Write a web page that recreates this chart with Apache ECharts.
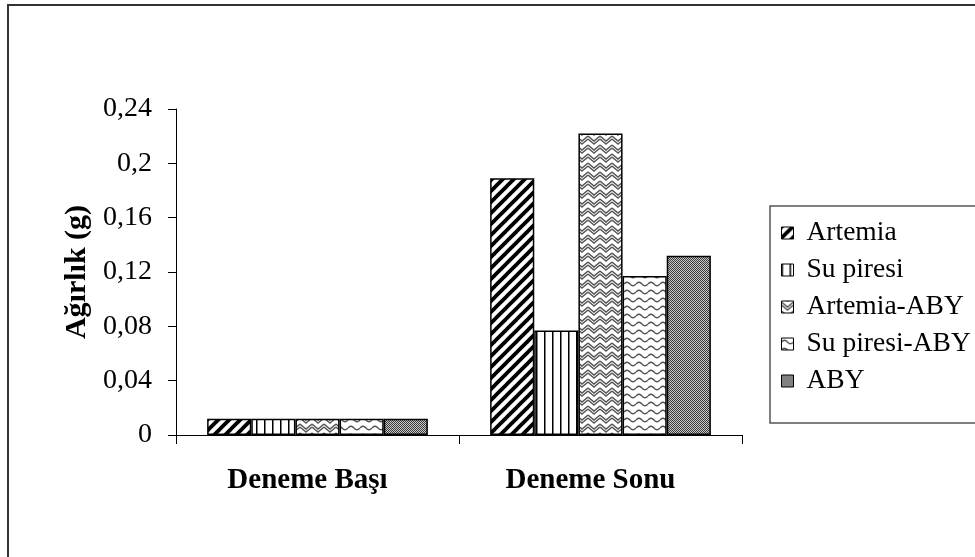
<!DOCTYPE html>
<html>
<head>
<meta charset="utf-8">
<script src="https://cdn.jsdelivr.net/npm/echarts@6/dist/echarts.min.js"></script>
<style>html,body{margin:0;padding:0;background:#fff}#c{width:975px;height:557px}</style>
</head>
<body>
<div id="c"></div>
<script>
var categories = ['Deneme Başı', 'Deneme Sonu'];
var seriesNames = ['Artemia', 'Su piresi', 'Artemia-ABY', 'Su piresi-ABY', 'ABY'];
var artemia = [0.012, 0.189];
var suPiresi = [0.012, 0.077];
var artemiaABY = [0.012, 0.222];
var suPiresiABY = [0.012, 0.117];
var aby = [0.012, 0.132];
var yTicks = [0, 0.04, 0.08, 0.12, 0.16, 0.2, 0.24];

function tile(w, h, draw) {
  var c = document.createElement('canvas');
  c.width = w; c.height = h;
  var g = c.getContext('2d');
  g.fillStyle = '#fff'; g.fillRect(0, 0, w, h);
  draw(g, w, h);
  return { image: c, repeat: 'repeat' };
}
var patterns = [
  tile(11, 11, function (g, w, h) {
    g.strokeStyle = '#000'; g.lineWidth = 3.8; g.lineCap = 'square';
    for (var k = -1; k <= 1; k++) {
      g.beginPath(); g.moveTo(k * w, h); g.lineTo(k * w + w, 0); g.stroke();
    }
  }),
  tile(8, 8, function (g, w, h) {
    g.fillStyle = '#000'; g.fillRect(0, 0, 1.5, h);
  }),
  tile(12, 9, function (g, w, h) {
    g.strokeStyle = '#555'; g.lineWidth = 1.4;
    for (var k = -1; k <= 1; k++) {
      g.beginPath(); g.moveTo(0, 1 + k * h); g.lineTo(6, 6 + k * h); g.lineTo(12, 1 + k * h); g.stroke();
      g.beginPath(); g.moveTo(0, 4 + k * h); g.lineTo(6, 9 + k * h); g.lineTo(12, 4 + k * h); g.stroke();
    }
  }),
  tile(12, 8, function (g, w, h) {
    g.strokeStyle = '#555'; g.lineWidth = 1.4;
    g.beginPath();
    g.moveTo(0, 4);
    g.quadraticCurveTo(3, 0.5, 6, 4);
    g.quadraticCurveTo(9, 7.5, 12, 4);
    g.stroke();
  }),
  tile(2, 2, function (g, w, h) {
    g.fillStyle = '#c8c8c8'; g.fillRect(0, 0, 2, 2);
    g.fillStyle = '#3a3a3a'; g.fillRect(0, 0, 1, 1); g.fillRect(1, 1, 1, 1);
  })
];
var dataSets = [artemia, suPiresi, artemiaABY, suPiresiABY, aby];
var font = 'Liberation Serif';

var chart = echarts.init(document.getElementById('c'), null, { renderer: 'canvas' });
chart.setOption({
  animation: false,
  backgroundColor: '#fff',
  graphic: [
    { type: 'rect', shape: { x: 8, y: 5, width: 1100, height: 700 }, style: { fill: null, stroke: '#333', lineWidth: 2 }, silent: true },
    { type: 'rect', shape: { x: 770, y: 206, width: 400, height: 217 }, style: { fill: null, stroke: '#555', lineWidth: 1.5 }, silent: true }
  ],
  grid: { left: 176, right: 233, top: 109, bottom: 122 },
  legend: {
    orient: 'vertical',
    left: 776, top: 214,
    itemWidth: 12, itemHeight: 12, itemGap: 9,
    icon: 'rect',
    itemStyle: { borderColor: '#000', borderWidth: 1 },
    textStyle: { fontFamily: font, fontSize: 27.5, color: '#000', lineHeight: 28, padding: [0, 0, 0, 8] },
    data: seriesNames
  },
  xAxis: {
    type: 'category',
    data: categories,
    axisLine: { lineStyle: { color: '#000', width: 1 } },
    axisTick: { show: true, length: 9, lineStyle: { color: '#000' } },
    axisLabel: { fontFamily: font, fontSize: 29, fontWeight: 'bold', color: '#000', margin: 31, padding: [0, 20, 0, 0] }
  },
  yAxis: {
    type: 'value',
    min: 0, max: 0.24, interval: 0.04,
    name: 'Ağırlık (g)',
    nameLocation: 'middle',
    nameGap: 50,
    nameRotate: 90,
    nameTextStyle: { fontFamily: font, fontSize: 30, fontWeight: 'bold', color: '#000' },
    axisLine: { show: true, lineStyle: { color: '#000', width: 1 } },
    axisTick: { show: true, length: 8, lineStyle: { color: '#000' } },
    splitLine: { show: false },
    axisLabel: {
      fontFamily: font, fontSize: 28, color: '#000', margin: 24,
      formatter: function (v) { return String(+v.toFixed(2)).replace('.', ','); }
    }
  },
  series: seriesNames.map(function (n, i) {
    return {
      name: n, type: 'bar', data: dataSets[i],
      barGap: '0%', barCategoryGap: '22%',
      itemStyle: { color: patterns[i], borderColor: '#000', borderWidth: 1.5 }
    };
  })
});
</script>
</body>
</html>
